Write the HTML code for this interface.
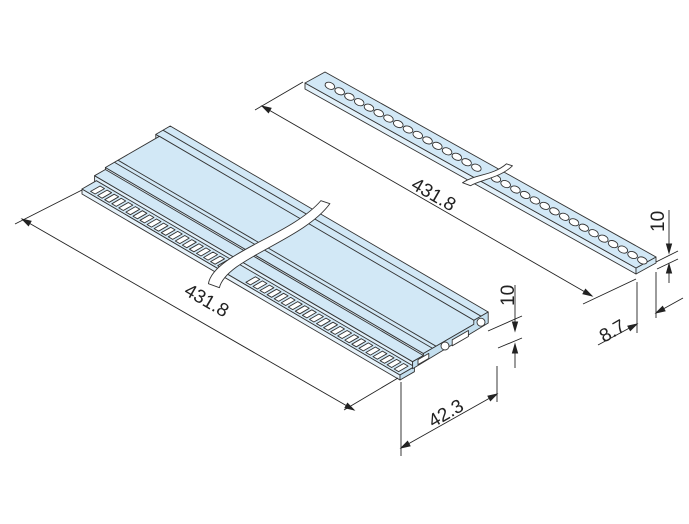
<!DOCTYPE html>
<html><head><meta charset="utf-8"><style>
html,body{margin:0;padding:0;background:#fff;}
svg{display:block}
text{font-family:"Liberation Sans",sans-serif;font-size:19px;fill:#222}
</style></head><body>
<svg id="s" width="689" height="524" viewBox="0 0 689 524" xmlns="http://www.w3.org/2000/svg">
<g id="g" stroke="#333" stroke-width="0.9" stroke-linejoin="round"></g>
<g id="d" stroke="#222" stroke-width="0.9" fill="none"></g>
<text transform="translate(410,188) rotate(30)">431.8</text>
<text transform="translate(183,294) rotate(30)">431.8</text>
<text transform="translate(433,428) rotate(-30)">42.3</text>
<text transform="translate(604,343) rotate(-30)">8.7</text>
<text transform="translate(514,306) rotate(-90)">10</text>
<text transform="translate(664,232) rotate(-90)">10</text>
</svg>
<script>
var g=document.getElementById('g'),d=document.getElementById('d'),NS='http://www.w3.org/2000/svg';
function el(p,t,a){var e=document.createElementNS(NS,t);for(var k in a)e.setAttribute(k,a[k]);p.appendChild(e);return e;}
function poly(pts,fill,p){el(p||g,'polygon',{points:pts.map(function(q){return q[0].toFixed(1)+','+q[1].toFixed(1)}).join(' '),fill:fill});}
function line(a,b,p){el(p||d,'line',{x1:a[0],y1:a[1],x2:b[0],y2:b[1]});}
function arrow(tip,from){var dx=tip[0]-from[0],dy=tip[1]-from[1],l=Math.hypot(dx,dy);dx/=l;dy/=l;var L=9,w=2.6;
 poly([tip,[tip[0]-dx*L-dy*w,tip[1]-dy*L+dx*w],[tip[0]-dx*L+dy*w,tip[1]-dy*L-dx*w]],'#222',d);}
function dim(a,b){line(a,b);arrow(a,b);arrow(b,a);}
// ---- strip ----
var SO=[305,83],SL=[331,185],SW=[20,-11],ST=6;
function S(u,v,h){return [SO[0]+SL[0]*u+SW[0]*v,SO[1]+SL[1]*u+SW[1]*v-h];}
poly([S(0,0,0),S(1,0,0),S(1,0,-ST),S(0,0,-ST)],'#e3f1fa');
poly([S(1,0,0),S(1,1,0),S(1,1,-ST),S(1,0,-ST)],'#d2e8f5');
poly([S(0,0,0),S(1,0,0),S(1,1,0),S(0,1,0)],'#d2e8f6');
for(var i=0;i<33;i++){var u=0.045+i*0.0295;if(u>0.49&&u<0.53)continue;var c=S(u,0.5,0);
 el(g,'ellipse',{cx:c[0],cy:c[1],rx:5,ry:3.3,fill:'#fff',transform:'rotate(22 '+c[0]+' '+c[1]+')'});}
// strip break
var b1=S(0.5,-0.2,0),b2=S(0.53,1.2,0);
el(g,'path',{d:'M'+(b1[0]-4)+','+(b1[1]+5)+' C'+(b1[0]+10)+','+(b1[1]-4)+' '+(b2[0]-12)+','+(b2[1]+8)+' '+(b2[0]+2)+','+(b2[1]-4)+' L'+(b2[0]+8)+','+(b2[1]-2)+' C'+(b2[0]-4)+','+(b2[1]+10)+' '+(b1[0]+14)+','+(b1[1]+2)+' '+(b1[0]+4)+','+(b1[1]+8)+'Z',fill:'#fff'});
// ---- rail ----
var O=[82,194],L=[318,186],W=[90,-52];
function P(u,v,h){return [O[0]+L[0]*u+W[0]*v,O[1]+L[1]*u+W[1]*v-h];}
function box(v0,v1,h0,h1,top,side){
 poly([P(0,v0,h0),P(1,v0,h0),P(1,v0,h1),P(0,v0,h1)],side);
 poly([P(0,v0,h1),P(1,v0,h1),P(1,v1,h1),P(0,v1,h1)],top);}
box(0.82,0.98,6,17,'#d2e8f6','#e0eff9');
box(0.26,0.86,6,13,'#d2e8f6','#e0eff9');
box(0.14,0.26,4,11,'#d2e8f6','#e0eff9');
box(0,0.16,0,5,'#d2e8f6','#e6f2fa');
line(P(0,0.36,13),P(1,0.36,13),g);line(P(0,0.4,13),P(1,0.4,13),g);
line(P(0,0.9,17),P(1,0.9,17),g);
// slots
for(var i=0;i<44;i++){var u=0.02+i*0.0222;if(u>0.43&&u<0.5)continue;
 poly([P(u,0.025,5),P(u+0.014,0.025,5),P(u+0.014,0.13,5),P(u,0.13,5)],'#fff');}
// rail break
var c1=P(0.44,-0.15,0),c2=P(0.44,1.1,18);
el(g,'path',{d:'M'+c1[0]+','+c1[1]+' C'+(c1[0]+5)+','+(c1[1]-30)+' '+(c2[0]-30)+','+(c2[1]+35)+' '+c2[0]+','+c2[1]+' L'+(c2[0]+9)+','+(c2[1]+3)+' C'+(c2[0]-18)+','+(c2[1]+40)+' '+(c1[0]+18)+','+(c1[1]-25)+' '+(c1[0]+11)+','+(c1[1]+4)+'Z',fill:'#fff'});
// end face detail
poly([P(1,0,0),P(1,0.16,0),P(1,0.16,5),P(1,0,5)],'#c4dfef');
poly([P(1,0.14,4),P(1,0.98,6),P(1,0.98,17),P(1,0.82,17),P(1,0.82,13),P(1,0.26,13),P(1,0.26,11),P(1,0.14,11)],'#c4dfef');
var h1=P(1,0.5,8),h2=P(1,0.9,11);
el(g,'circle',{cx:h1[0],cy:h1[1],r:4,fill:'#fff'});el(g,'circle',{cx:h2[0],cy:h2[1],r:4,fill:'#fff'});
poly([P(1,0.58,4),P(1,0.76,4),P(1,0.76,10),P(1,0.58,10)],'#fff');
poly([P(1,0.2,5),P(1,0.32,5),P(1,0.32,10),P(1,0.2,10)],'#fff');
// ---- dimensions ----
line([303,82],[255,110]);line([636,279],[583,304]);dim([262,106],[592,296]);
line([82,190],[15,224]);line([398,378],[344,410]);dim([22,219],[354,410]);
line([401,382],[401,456]);line([497,366],[497,402]);dim([401,448],[497,394]);
line([488,331],[522,316]);line([498,348],[522,338]);
line([515,285],[515,331]);arrow([515,331],[515,300]);line([515,344],[515,368]);arrow([515,344],[515,368]);
line([656,262],[678,251]);line([657,269],[678,259]);
line([669,210],[669,253]);arrow([669,253],[669,230]);line([669,264],[669,283]);arrow([669,264],[669,283]);
line([637,282],[637,333]);line([656,272],[656,318]);
line([598,345],[637,324]);arrow([637,324],[598,345]);line([656,313],[683,298]);arrow([656,313],[683,298]);
</script>
</body></html>
